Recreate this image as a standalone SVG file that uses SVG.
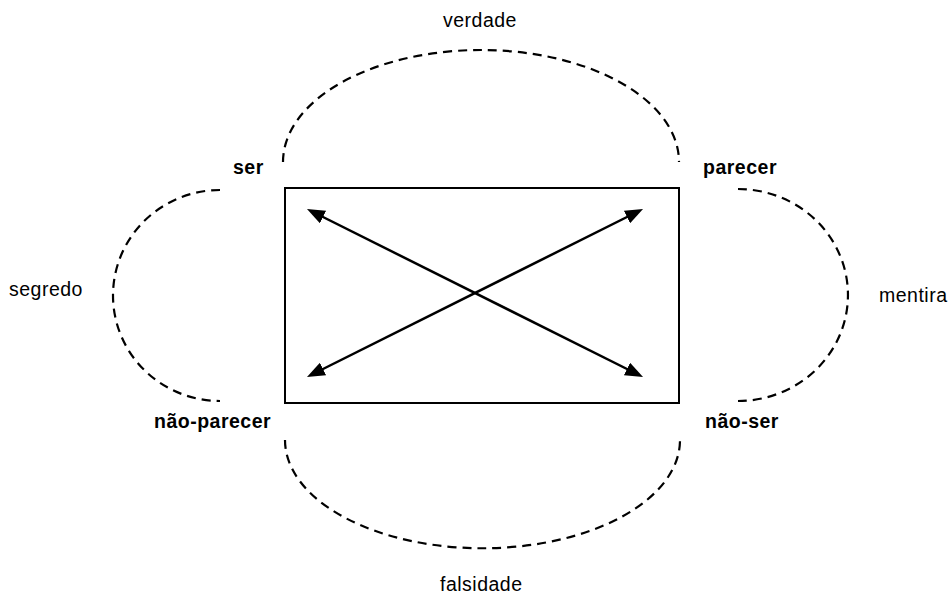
<svg xmlns="http://www.w3.org/2000/svg" width="949" height="594" viewBox="0 0 949 594">
  <style>
    .t { font-family: "Liberation Sans", Arial, sans-serif; font-size: 19.5px; fill: #000; letter-spacing: 0.5px; }
    .b { font-weight: bold; }
    .dash { fill: none; stroke: #000; stroke-width: 2.2; stroke-dasharray: 9 6; }
    .arrow { fill: none; stroke: #000; stroke-width: 2.5; marker-start: url(#ah); marker-end: url(#ah); }
    .box { fill: #fff; stroke: #000; stroke-width: 2; }
  </style>
  <defs>
    <marker id="ah" viewBox="0 0 18 14" refX="9" refY="7" markerWidth="18" markerHeight="14" markerUnits="userSpaceOnUse" orient="auto-start-reverse">
      <path d="M0,0 L18,7 L0,14 z" fill="#000"/>
    </marker>
  </defs>
  <rect width="949" height="594" fill="#fff"/>

  <g id="square">
    <rect class="box" x="285" y="188" width="394" height="215"/>
  </g>

  <g id="connectors">
    <path class="dash" d="M283,162 A198,112 0 0 1 679,162"/>
    <path class="dash" d="M285,440 A197,108 0 0 0 680,440"/>
    <path class="dash" d="M220,190 A107,105.5 0 0 0 220,401"/>
    <path class="dash" d="M738,189 A110,106 0 0 1 738,401"/>
    <line class="arrow" x1="315" y1="213" x2="635" y2="373"/>
    <line class="arrow" x1="315" y1="373" x2="635" y2="213"/>
  </g>

  <g id="ser"><text class="t b" x="233" y="174">ser</text></g>
  <g id="parecer"><text class="t b" x="703" y="174">parecer</text></g>
  <g id="nao-parecer"><text class="t b" x="154" y="428">não-parecer</text></g>
  <g id="nao-ser"><text class="t b" x="705" y="428">não-ser</text></g>

  <g id="verdade"><text class="t" x="443" y="27">verdade</text></g>
  <g id="segredo"><text class="t" x="9" y="296">segredo</text></g>
  <g id="mentira"><text class="t" x="879" y="302">mentira</text></g>
  <g id="falsidade"><text class="t" x="440" y="591">falsidade</text></g>
</svg>
